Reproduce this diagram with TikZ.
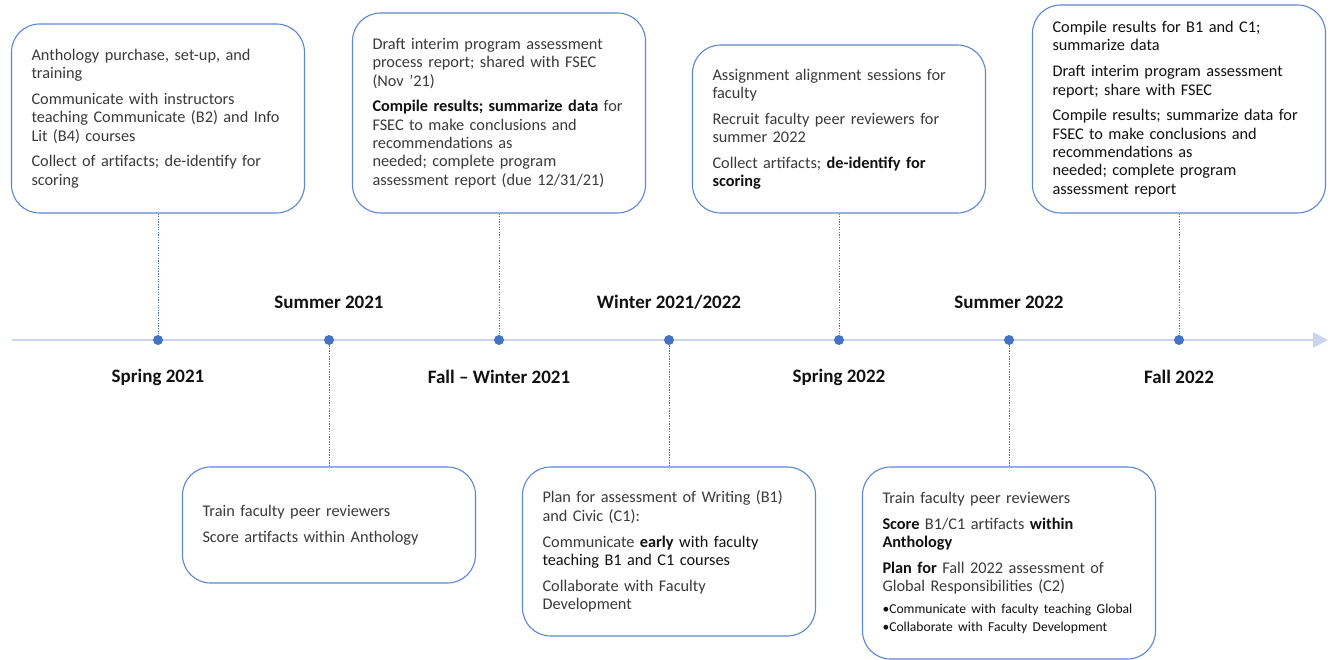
\documentclass[tikz,border=0pt]{standalone}
\usepackage{fontspec}
\setmainfont{Carlito}
\usetikzlibrary{arrows.meta}
\definecolor{boxblue}{HTML}{5B86D6}
\definecolor{dotblue}{HTML}{4472C4}
\definecolor{axisc}{HTML}{CAD4EE}
\definecolor{txt}{HTML}{3A3A3A}
\definecolor{dark}{HTML}{111111}
\newcommand{\pgap}{\\[7.5pt]}
\newcommand{\dk}[1]{{\color{dark}\bfseries #1}}
\begin{document}
\begin{tikzpicture}[x=1pt,y=-1pt,
  evbox/.style={draw=boxblue, line width=1.1pt, rounded corners=28pt, fill=white,
    text=txt, align=left, font=\fontsize{16.3}{18.3}\selectfont, inner sep=0pt,
    minimum width=293pt, text width=253pt},
  tdot/.style={circle, fill=dotblue, inner sep=0pt, minimum size=10pt},
  conn/.style={draw=dotblue, line width=1pt, dash pattern=on 1.3pt off 1.3pt},
  period/.style={font=\fontsize{19}{22}\selectfont\bfseries, text=dark, inner sep=0pt}
]
\useasboundingbox (0,0) rectangle (1337,660);

% timeline
\draw[draw=axisc, line width=2pt, -{Triangle[length=15pt,width=15pt,fill=axisc]}] (12,340) -- (1328,340);

% dots
\node[tdot] (d1) at (158,340) {};
\node[tdot] (d2) at (329,340) {};
\node[tdot] (d3) at (499,340) {};
\node[tdot] (d4) at (669,340) {};
\node[tdot] (d5) at (839,340) {};
\node[tdot] (d6) at (1009,340) {};
\node[tdot] (d7) at (1179,340) {};

% period labels
\node[period] (l1) at (158,377) {Spring 2021};
\node[period] (l2) at (329,302) {Summer 2021};
\node[period] (l3) at (499,377) {Fall -- Winter 2021};
\node[period] (l4) at (669,302) {Winter 2021/2022};
\node[period] (l5) at (839,377) {Spring 2022};
\node[period] (l6) at (1009,302) {Summer 2022};
\node[period] (l7) at (1179,377) {Fall 2022};

% top boxes
\node[evbox, minimum height=189pt] (b1) at (158,118.5) {Anthology purchase, set-up, and\\training\pgap
Communicate with instructors\\teaching Communicate (B2) and Info\\Lit (B4) courses\pgap
Collect of artifacts; de-identify for\\scoring};

\node[evbox, minimum height=200pt] (b2) at (499,113) {Draft interim program assessment\\process report; shared with FSEC\\(Nov '21)\pgap
\dk{Compile results; summarize data} for\\FSEC to make conclusions and\\recommendations as\\needed; complete program\\assessment report (due 12/31/21)};

\node[evbox, minimum height=168pt] (b3) at (839,129) {Assignment alignment sessions for\\faculty\pgap
Recruit faculty peer reviewers for\\summer 2022\pgap
Collect artifacts; \dk{de-identify for}\\\dk{scoring}};

\node[evbox, minimum height=208pt, text=dark] (b4) at (1179,109) {Compile results for B1 and C1;\\summarize data\pgap
Draft interim program assessment\\report; share with FSEC\pgap
Compile results; summarize data for\\FSEC to make conclusions and\\recommendations as\\needed; complete program\\assessment report};

% bottom boxes
\node[evbox, minimum height=116pt] (b5) at (329,525) {Train faculty peer reviewers\pgap
Score artifacts within Anthology};

\node[evbox, minimum height=169pt] (b6) at (669,551.5) {Plan for assessment of Writing (B1)\\and Civic (C1):\pgap
Communicate \dk{early} {\color{dark}with faculty}\\{\color{dark}teaching B1 and C1 courses}\pgap
Collaborate with Faculty\\Development};

\node[evbox, minimum height=192pt] (b7) at (1009,563) {Train faculty peer reviewers\pgap
\dk{Score} B1/C1 artifacts \dk{within}\\\dk{Anthology}\pgap
\dk{Plan for} Fall 2022 assessment of\\Global Responsibilities (C2)\\[3pt]
{\fontsize{13.6}{18.5}\selectfont\color{dark}\textbullet Communicate with faculty teaching Global}\\
{\fontsize{13.6}{18.5}\selectfont\color{dark}\textbullet Collaborate with Faculty Development}};

% connectors
\draw[conn] (b1.south) -- (d1);
\draw[conn] (b2.south) -- (d3);
\draw[conn] (b3.south) -- (d5);
\draw[conn] (b4.south) -- (d7);
\draw[conn] (d2) -- (b5.north);
\draw[conn] (d4) -- (b6.north);
\draw[conn] (d6) -- (b7.north);
\end{tikzpicture}
\end{document}
